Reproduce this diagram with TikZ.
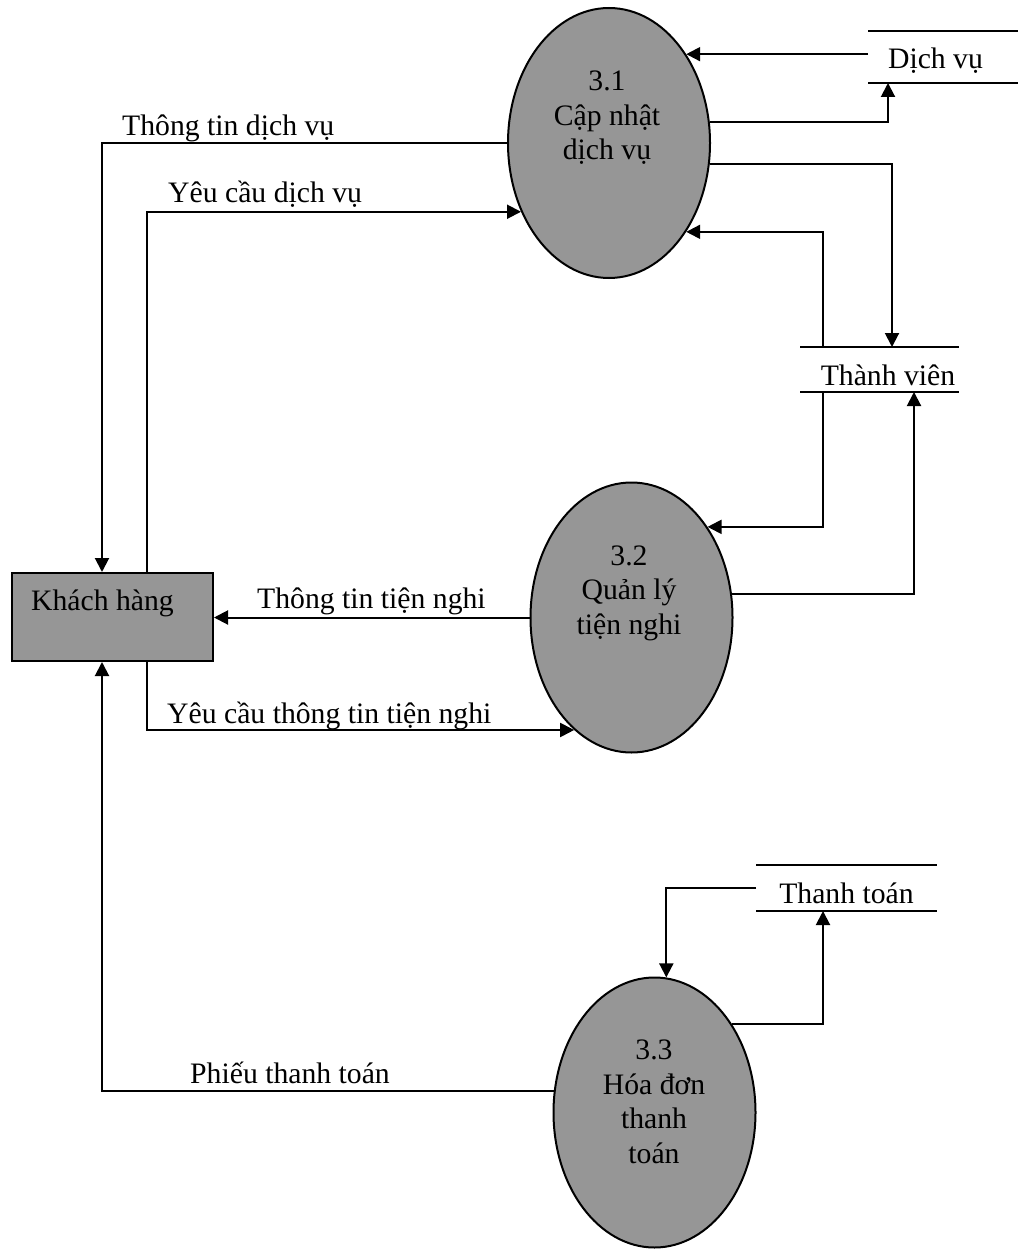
\documentclass[tikz,border=0pt]{standalone}
\usepackage{fontspec}
\setmainfont{Liberation Serif}
\usetikzlibrary{arrows.meta,shapes.geometric}
\definecolor{procfill}{RGB}{150,150,150}

\begin{document}
\begin{tikzpicture}[x=1pt,y=-1pt,
  every node/.style={font=\fontsize{29.7}{34.5}\selectfont, inner sep=0pt},
  wire/.style={line width=2pt},
  flow/.style={line width=2pt, -{Triangle[length=14pt,width=14pt]}},
  proc/.style={ellipse, draw, line width=2pt, fill=procfill,
               minimum width=202pt, minimum height=270pt},
  extent/.style={rectangle, draw, line width=2pt, fill=procfill,
                 minimum width=201pt, minimum height=88pt},
  store/.style={rectangle, outer sep=0pt, text height=38pt},
  ptext/.style={align=center},
  flowlabel/.style={anchor=base west}]

\useasboundingbox (0,0) rectangle (1018,1249);

% processes
\node[proc] (p31) at (609,143) {};
\node[proc] (p32) at (631.5,617.5) {};
\node[proc] (p33) at (654.5,1112.5) {};
\node[ptext] (t31) at (607,118) {3.1\\Cập nhật\\dịch vụ};
\node[ptext] (t32) at (629,593) {3.2\\Quản lý\\tiện nghi};
\node[ptext] (t33) at (654,1102) {3.3\\Hóa đơn\\thanh\\toán};

% external entity
\node[extent] (kh) at (112.5,617) {};
\node[anchor=base] (khT) at (102.5,610) {Khách hàng};

% data stores (the leading space moves each name off the middle)
\node[store, minimum width=150pt, text depth=14pt] (dv) at (943,57) {\hspace*{-15pt}Dịch vụ};
\node[store, minimum width=159pt, text depth=7pt] (tv) at (879.5,369.5) {\hspace*{17pt}Thành viên};
\node[store, minimum width=181pt, text depth=8pt] (tt) at (846.5,888) {Thanh toán};
\foreach \s in {dv,tv,tt}{
  \draw[wire] (\s.north west) -- (\s.north east);
  \draw[wire] (\s.south west) -- (\s.south east);
}

% flows around 3.1
\draw[flow] (dv.west |- p31.49.63) -- (p31.49.63);
\draw[flow] (p31.12.33) -| ([xshift=-55pt]dv.south);
\draw[flow] (p31.-12.89) -| ([xshift=12.5pt]tv.north);
\draw[flow] ([xshift=-56.5pt]tv.north) |- (p31.-49.63);
\draw[flow] (p31.west) -| ([xshift=-10.5pt]kh.north);
\draw[flow] ([xshift=34.5pt]kh.north) |- (p31.218.13);

% flows around 3.2
\draw[flow] (p32.west) -- (p32.west -| kh.east);
\draw[flow] ([xshift=34.5pt]kh.south) |- (p32.243.3);
\draw[flow] ([xshift=-56.5pt]tv.south) |- (p32.50.14);
\draw[flow] (p32.13.23) -| ([xshift=34.5pt]tv.south);

% flows around 3.3
\draw[flow] (tt.west) -| (p33.85.55);
\draw[flow] (p33.49.31) -| ([xshift=-23.5pt]tt.south);
\draw[flow] (p33.168.56) -| ([xshift=-10.5pt]kh.south);

% flow labels
\node[flowlabel] (l1) at (122,136) {Thông tin dịch vụ};
\node[flowlabel] (l2) at (168,203) {Yêu cầu dịch vụ};
\node[flowlabel] (l3) at (257,608) {Thông tin tiện nghi};
\node[flowlabel] (l4) at (167,723) {Yêu cầu thông tin tiện nghi};
\node[flowlabel] (l5) at (190,1083) {Phiếu thanh toán};
\end{tikzpicture}
\end{document}
